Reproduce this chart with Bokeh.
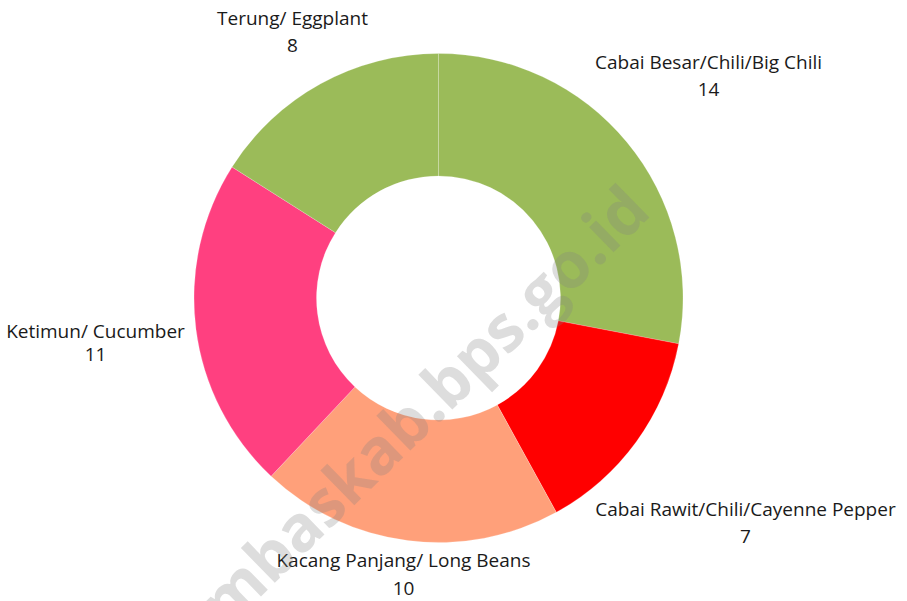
import math
from bokeh.plotting import figure
from bokeh.models import Range1d, ColumnDataSource
from bokeh.core.properties import value
from bokeh.embed import file_html
from bokeh.resources import INLINE

# ---- data ----
categories = ["Cabai Besar/Chili/Big Chili", "Cabai Rawit/Chili/Cayenne Pepper",
              "Kacang Panjang/ Long Beans", "Ketimun/ Cucumber", "Terung/ Eggplant"]
counts = [14, 7, 10, 11, 8]
colors = ["#9BBB59", "#FF0000", "#FFA07A", "#FF4080", "#9BBB59"]

W, H = 907, 601
p = figure(width=W, height=H, output_backend="svg", toolbar_location=None,
           x_range=Range1d(0, W), y_range=Range1d(0, H), min_border=0)
p.axis.visible = False
p.grid.visible = False
p.outline_line_color = None

def px(x):
    return x

def py(y):
    return H - y

cx, cy = px(438), py(297.5)
r_out, r_in = 244.5, 122

total = sum(counts)
starts, ends = [], []
a = math.pi / 2
for c in counts:
    starts.append(a)
    a -= 2 * math.pi * c / total
    ends.append(a)

src = ColumnDataSource(dict(start=starts, end=ends, color=colors, cat=categories, n=counts))
p.annular_wedge(x=cx, y=cy, inner_radius=r_in, outer_radius=r_out,
                start_angle="end", end_angle="start", fill_color="color",
                line_color="white", line_width=0.5, line_alpha=0.4, source=src)

# labels (page coords of label centres)
label_pos = [(708, 61, 89), (745, 508, 536), (403, 559, 588), (95, 330, 354), (292, 17, 45)]
lx, ly1, ly2 = [], [], []
for (x, y1, y2) in label_pos:
    lx.append(px(x)); ly1.append(py(y1)); ly2.append(py(y2))
lsrc = ColumnDataSource(dict(x=lx, y1=ly1, y2=ly2, cat=categories,
                             n=[str(v) for v in counts]))
p.text(x="x", y="y1", text="cat", source=lsrc, text_align="center",
       text_baseline="middle", text_font=value("Open Sans"), text_font_size="19px",
       text_color="#1a1a1a")
p.text(x="x", y="y2", text="n", source=lsrc, text_align="center",
       text_baseline="middle", text_font=value("Open Sans"), text_font_size="19px",
       text_color="#1a1a1a")

# watermark
p.text(x=[px(422)], y=[py(404)], text=["mbaskab.bps.go.id"], angle=0.773,
       text_align="center", text_baseline="alphabetic", text_font=value("Open Sans"),
       text_font_style="bold", text_font_size="64px", text_color="#808080",
       text_alpha=0.27)

open("out.html", "w").write(file_html(p, INLINE))
